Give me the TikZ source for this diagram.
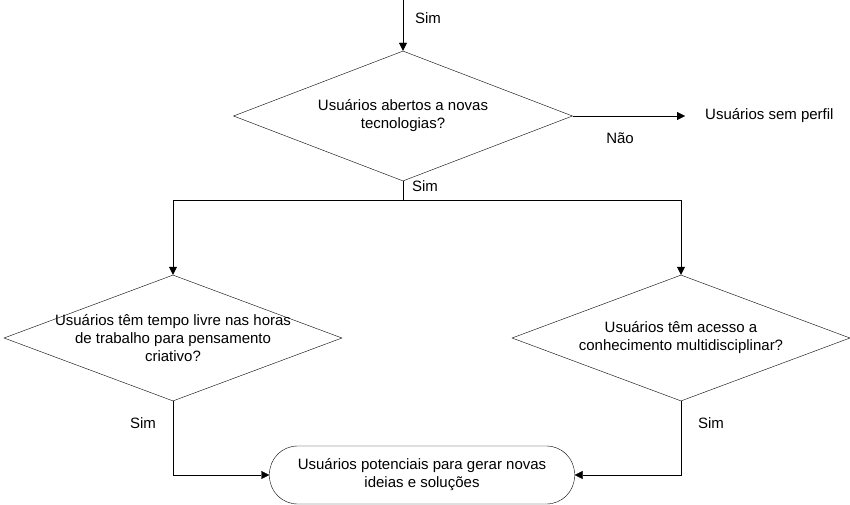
\documentclass[tikz,border=0pt]{standalone}
\usepackage{fontspec}
\setmainfont{Liberation Sans}
\usetikzlibrary{positioning,shapes.geometric,arrows.meta}

\begin{document}
\begin{tikzpicture}[x=1pt,y=-1pt,
  every node/.style={font=\fontsize{15}{18}\selectfont},
  dec/.style={draw,diamond,minimum width=339pt,minimum height=130pt,inner sep=0pt},
  txt/.style={align=center,inner sep=0pt},
  term/.style={draw,rounded corners=28pt,minimum width=305pt,minimum height=58pt,align=center},
  arr/.style={-{Triangle[length=8pt,width=8pt]}}]
\useasboundingbox (0,0) rectangle (850,505);
\clip (0,0) rectangle (850,505);
\coordinate (in) at (403,-2);
\node [dec] (d1) at (403,116) {};
\node [txt] at (d1) {Usuários abertos a novas\\tecnologias?};
\node [anchor=west,inner sep=0pt] (np) at (705,116) {Usuários sem perfil};
\node [dec,minimum width=338pt,minimum height=126pt] (d2) at (173,338) {};
\node [txt] at (d2) {Usuários têm tempo livre nas horas\\de trabalho para pensamento\\criativo?};
\node [dec,minimum width=338pt,minimum height=126pt] (d3) at (681,338) {};
\node [txt] at (d3) {Usuários têm acesso a\\conhecimento multidisciplinar?};
\node [term] (t) at (422,475) {Usuários potenciais para gerar novas\\ideias e soluções};
\coordinate (split) at (403,200);
\draw [arr] (in) -- (d1.north);
\node at (428,18) {Sim};
\draw [arr] (d1.east) -- (np.west -| 685,116);
\node at (620,138) {Não};
\draw (d1.south) -- (split);
\node at (425,186) {Sim};
\draw [arr] (split) -| (d2.north);
\draw [arr] (split) -| (d3.north);
\draw [arr] (d2.south) |- (t.west);
\draw [arr] (d3.south) |- (t.east);
\node at (143,423) {Sim};
\node at (711,423) {Sim};
\end{tikzpicture}
\end{document}
